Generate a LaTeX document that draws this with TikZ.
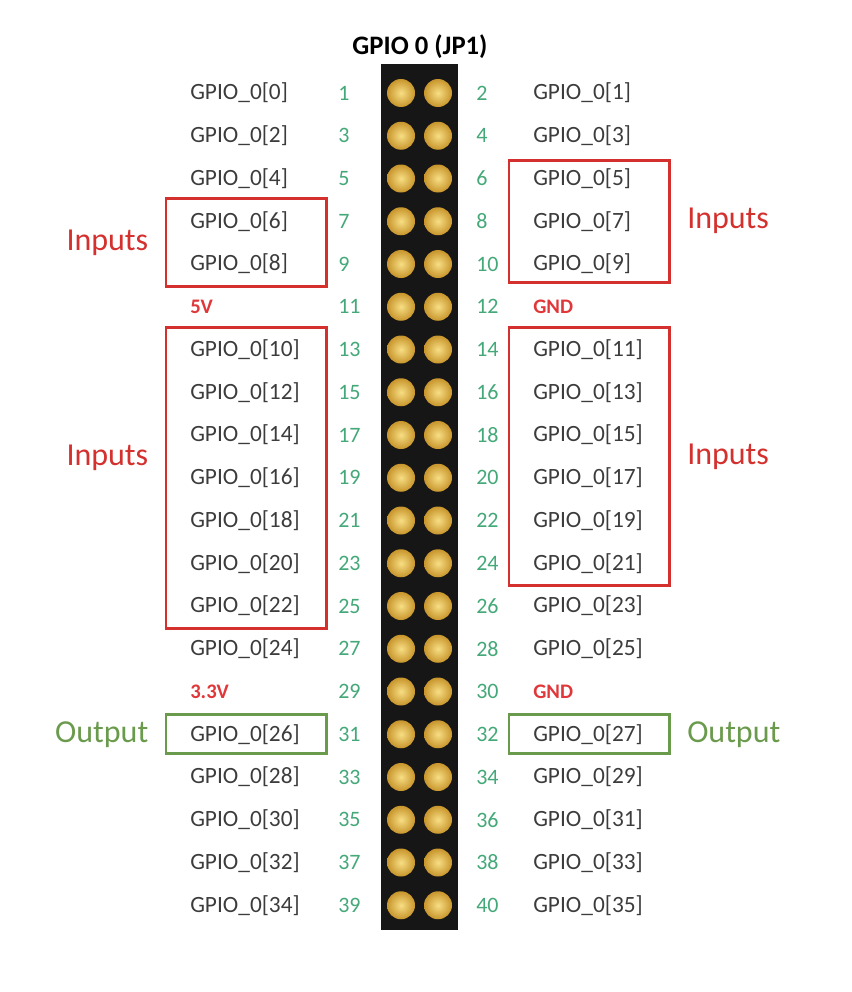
\documentclass[tikz,border=0pt]{standalone}
\usepackage{fontspec}
\setmainfont{Carlito}
\usetikzlibrary{positioning, fit}
\definecolor{hdrBlack}{HTML}{161616}
\definecolor{pinGoldIn}{HTML}{F7DE84}
\definecolor{pinGoldOut}{HTML}{C8952C}
\definecolor{lblGray}{HTML}{3C3C3C}
\definecolor{numGreen}{HTML}{44A878}
\definecolor{pwrRed}{HTML}{E0383A}
\definecolor{boxRed}{HTML}{D3302E}
\definecolor{boxGreen}{HTML}{6A9A4C}
\tikzset{
  header/.style={fill=hdrBlack, minimum width=57.75pt, minimum height=649.5pt, inner sep=0pt},
  gpiolbl/.style={anchor=west, inner sep=0pt, text width=84pt, align=left, font=\fontsize{17.5}{19}\selectfont, text=lblGray},
  pinnum/.style={anchor=west, inner sep=0pt, font=\fontsize{16.5}{18}\selectfont, text=numGreen},
  pwrlbl/.style={anchor=west, inner sep=0pt, text width=84pt, align=left, font=\fontsize{15.5}{18}\selectfont\bfseries, text=pwrRed},
  pinball/.style={circle, minimum size=21pt, inner sep=0pt, shading=radial, inner color=pinGoldIn, outer color=pinGoldOut},
  inbox/.style={draw=boxRed, line width=2.2pt, inner xsep=18pt, inner ysep=9pt},
  outbox/.style={inbox, draw=boxGreen},
  sidelbl/.style={inner sep=0pt, font=\fontsize{24}{28}\selectfont},
}

\begin{document}
\begin{tikzpicture}[x=0.75pt, y=-0.75pt]
  \useasboundingbox (0,0) rectangle (852,992);
  \node[header] (hdr) at (419.5,497) {};
  \node[font=\fontsize{20}{24}\selectfont\bfseries] (title) at (420,47) {GPIO 0 (JP1)};

  % pins and pin numbers
  \foreach \r in {1,...,20}{
    \pgfmathtruncatemacro{\nl}{2*\r-1}
    \pgfmathtruncatemacro{\nr}{2*\r}
    \node[pinball] (pl\r) at (401,{93+(\r-1)*42.75}) {};
    \node[pinball] (pr\r) at (438,{93+(\r-1)*42.75}) {};
    \node[pinnum] (nl\r) at (338,{93+(\r-1)*42.75}) {\nl};
    \node[pinnum] (nr\r) at (476,{93+(\r-1)*42.75}) {\nr};
  }

  % signal names
  \foreach \r/\a/\b in {1/0/1, 2/2/3, 3/4/5, 4/6/7, 5/8/9, 7/10/11, 8/12/13, 9/14/15,
      10/16/17, 11/18/19, 12/20/21, 13/22/23, 14/24/25, 16/26/27, 17/28/29,
      18/30/31, 19/32/33, 20/34/35}{
    \node[gpiolbl] (gl\r) at (190,{93+(\r-1)*42.75}) {GPIO\_0[\a]};
    \node[gpiolbl] (gr\r) at (533,{93+(\r-1)*42.75}) {GPIO\_0[\b]};
  }
  \node[pwrlbl] (gl6) at (190,306.75) {5V};
  \node[pwrlbl] (gr6) at (533,306.75) {GND};
  \node[pwrlbl] (gl15) at (190,691.5) {3.3V};
  \node[pwrlbl] (gr15) at (533,691.5) {GND};

  % groups
  \node[inbox, fit=(gl4)(gl5)] (inL1) {};
  \node[inbox, fit=(gr3)(gr5), inner ysep=6pt] (inR1) {};
  \node[inbox, fit=(gl7)(gl13)] (inL2) {};
  \node[inbox, fit=(gr7)(gr12)] (inR2) {};
  \node[outbox, fit=(gl16), inner ysep=7pt] (outL) {};
  \node[outbox, fit=(gr16), inner ysep=7pt] (outR) {};

  \node[sidelbl, text=boxRed, left=12pt of inL1] (tinL1) {Inputs};
  \node[sidelbl, text=boxRed, right=12pt of inR1] (tinR1) {Inputs};
  \node[sidelbl, text=boxRed, left=12pt of inL2, yshift=15pt] (tinL2) {Inputs};
  \node[sidelbl, text=boxRed, right=12pt of inR2] (tinR2) {Inputs};
  \node[sidelbl, text=boxGreen, left=12pt of outL] (toutL) {Output};
  \node[sidelbl, text=boxGreen, right=12pt of outR] (toutR) {Output};
\end{tikzpicture}
\end{document}
